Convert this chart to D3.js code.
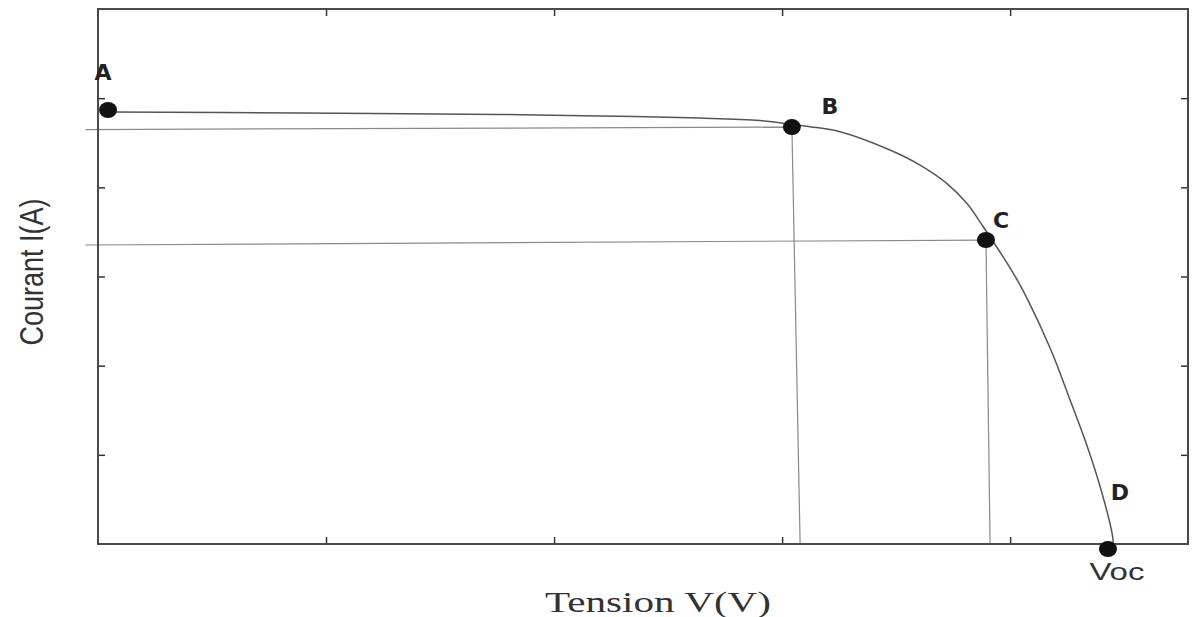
<!DOCTYPE html>
<html>
<head>
<meta charset="utf-8">
<script src="https://cdn.jsdelivr.net/npm/d3@7"></script>
<style>
  body { margin: 0; background: #fff; }
  .frame { fill: none; stroke: #4a4a4a; stroke-width: 2; }
  .tick line { stroke: #333; stroke-width: 1.5; }
  .curve { fill: none; stroke: #555; stroke-width: 1.5; }
  .guide { stroke: #8a8a8a; stroke-width: 1.2; }
  .point-label { font-family: "DejaVu Sans", sans-serif; font-weight: bold; font-size: 22px; fill: #222; }
</style>
</head>
<body>
<div id="wrapper"></div>
<script>
// data (x in tick units, y in tick units)
const voltage = [0.044, 0.886, 1.763, 2.201, 2.640, 2.903, 3.048, 3.122, 3.254, 3.473, 3.605,
  3.722, 3.810, 3.882, 4.014, 4.078, 4.179, 4.263, 4.333, 4.390, 4.447, 4.453];
const current = [4.845, 4.834, 4.817, 4.800, 4.777, 4.749, 4.704, 4.680, 4.624, 4.419, 4.250,
  4.045, 3.821, 3.558, 3.036, 2.736, 2.176, 1.615, 1.133, 0.684, 0.123, 0];

const pointNames = ["A", "B", "C", "D"];
const pointV = [0.044, 3.043, 3.894, 4.429];
const pointI = [4.867, 4.676, 3.409, -0.056];

// guides from B and C to the axes
const guidePoints = ["B", "C"];
const guideLeftI = [4.648, 3.353];
const guideFootV = [3.079, 3.912];

const xTicks = [1, 2, 3, 4];
const yTicks = [1, 2, 3, 4, 5];

const dimensions = {
  width: 1194,
  height: 617,
  margin: { top: 9, right: 6, bottom: 73, left: 98 },
};
dimensions.boundedWidth = dimensions.width - dimensions.margin.left - dimensions.margin.right;
dimensions.boundedHeight = dimensions.height - dimensions.margin.top - dimensions.margin.bottom;

const svg = d3.select("#wrapper").append("svg")
  .attr("width", dimensions.width)
  .attr("height", dimensions.height);

const bounds = svg.append("g")
  .attr("transform", `translate(${dimensions.margin.left},${dimensions.margin.top})`);

const xScale = d3.scaleLinear().domain([0, 4.78]).range([0, dimensions.boundedWidth]);
const yScale = d3.scaleLinear().domain([0, 6]).range([dimensions.boundedHeight, 0]);

// ticks on all four sides, pointing inward
const tickLen = 7;
const axes = [
  { gen: d3.axisBottom(xScale).tickValues(xTicks), t: `translate(0,${dimensions.boundedHeight})` },
  { gen: d3.axisTop(xScale).tickValues(xTicks), t: "translate(0,0)" },
  { gen: d3.axisLeft(yScale).tickValues(yTicks), t: "translate(0,0)" },
  { gen: d3.axisRight(yScale).tickValues(yTicks), t: `translate(${dimensions.boundedWidth},0)` },
];
axes.forEach((a) => {
  const g = bounds.append("g").attr("transform", a.t)
    .call(a.gen.tickSizeInner(-tickLen).tickSizeOuter(0).tickFormat(""));
  g.select(".domain").remove();
});

// guide lines
const pointIndex = (name) => pointNames.indexOf(name);
guidePoints.forEach((name, k) => {
  const p = pointIndex(name);
  bounds.append("line").attr("class", "guide")
    .attr("x1", xScale(-0.055)).attr("y1", yScale(guideLeftI[k]))
    .attr("x2", xScale(pointV[p])).attr("y2", yScale(pointI[p]));
  bounds.append("line").attr("class", "guide")
    .attr("x1", xScale(pointV[p])).attr("y1", yScale(pointI[p]))
    .attr("x2", xScale(guideFootV[k])).attr("y2", yScale(0));
});

bounds.append("rect").attr("class", "frame")
  .attr("x", 0).attr("y", 0)
  .attr("width", dimensions.boundedWidth)
  .attr("height", dimensions.boundedHeight);

// I-V curve
const curveData = voltage.map((v, i) => ({ v, i: current[i] }));
const line = d3.line()
  .x((d) => xScale(d.v))
  .y((d) => yScale(d.i))
  .curve(d3.curveCatmullRom.alpha(0.5));
bounds.append("path").attr("class", "curve").attr("d", line(curveData));

// key points
const points = pointNames.map((n, k) => ({ name: n, v: pointV[k], i: pointI[k] }));
bounds.selectAll(".pt").data(points).join("ellipse")
  .attr("class", "pt")
  .attr("cx", (d) => xScale(d.v))
  .attr("cy", (d) => yScale(d.i))
  .attr("rx", 9).attr("ry", 8)
  .attr("fill", "#111");

const labelOffset = { A: [-5, -30], B: [38, -13], C: [15, -12], D: [12, -49] };
bounds.selectAll(".point-label").data(points).join("text")
  .attr("class", "point-label")
  .attr("text-anchor", "middle")
  .attr("x", (d) => xScale(d.v) + labelOffset[d.name][0])
  .attr("y", (d) => yScale(d.i) + labelOffset[d.name][1])
  .text((d) => d.name);

bounds.append("text")
  .attr("x", xScale(pointV[3]) + 9)
  .attr("y", yScale(0) + 36)
  .attr("text-anchor", "middle")
  .attr("font-family", "Liberation Sans, Arial, sans-serif")
  .attr("font-size", 23)
  .attr("fill", "#333")
  .attr("textLength", 55)
  .attr("lengthAdjust", "spacingAndGlyphs")
  .text("Voc");

// axis labels
svg.append("text")
  .attr("x", 658).attr("y", 612)
  .attr("text-anchor", "middle")
  .attr("font-family", "Liberation Serif, Times New Roman, serif")
  .attr("font-size", 29)
  .attr("fill", "#333")
  .attr("textLength", 226)
  .attr("lengthAdjust", "spacingAndGlyphs")
  .text("Tension V(V)");

svg.append("text")
  .attr("transform", "translate(43,272) rotate(-90)")
  .attr("text-anchor", "middle")
  .attr("font-family", "Liberation Sans, Arial, sans-serif")
  .attr("font-size", 33)
  .attr("fill", "#333")
  .attr("textLength", 147)
  .attr("lengthAdjust", "spacingAndGlyphs")
  .text("Courant I(A)");
</script>
</body>
</html>
